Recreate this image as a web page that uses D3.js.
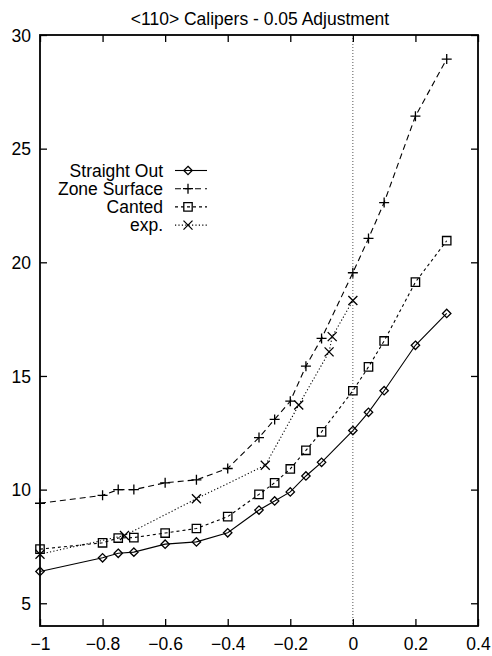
<!DOCTYPE html>
<html>
<head>
<meta charset="utf-8">
<script src="https://cdn.jsdelivr.net/npm/d3@7"></script>
<style>
  html, body { margin: 0; padding: 0; background: #fff; }
  svg { display: block; }
  text { font-family: "Liberation Sans", Arial, Helvetica, sans-serif; fill: #000; }
</style>
</head>
<body>
<svg id="chart" width="492" height="656"></svg>
<script>
// Chart title and axis ticks
const title = "<110> Calipers - 0.05 Adjustment";
const xTicks = [-1, -0.8, -0.6, -0.4, -0.2, 0, 0.2, 0.4];
const yTicks = [5, 10, 15, 20, 25, 30];

// Series: offsets (x) and measured values (y)
const straightX = [-1, -0.8, -0.75, -0.7, -0.6, -0.5, -0.4, -0.3, -0.25, -0.2, -0.15, -0.1, 0, 0.05, 0.1, 0.2, 0.3];
const straightY = [6.4, 7.0, 7.2, 7.25, 7.6, 7.7, 8.1, 9.1, 9.5, 9.9, 10.6, 11.2, 12.6, 13.4, 14.35, 16.35, 17.75];

const zoneX = [-1, -0.8, -0.75, -0.7, -0.6, -0.5, -0.4, -0.3, -0.25, -0.2, -0.15, -0.1, 0, 0.05, 0.1, 0.2, 0.3];
const zoneY = [9.4, 9.75, 10.0, 10.0, 10.3, 10.43, 10.93, 12.29, 13.09, 13.89, 15.43, 16.65, 19.54, 21.05, 22.63, 26.43, 28.94];

const cantedX = [-1, -0.8, -0.75, -0.7, -0.6, -0.5, -0.4, -0.3, -0.25, -0.2, -0.15, -0.1, 0, 0.05, 0.1, 0.2, 0.3];
const cantedY = [7.38, 7.66, 7.87, 7.89, 8.09, 8.29, 8.81, 9.79, 10.3, 10.91, 11.73, 12.54, 14.35, 15.4, 16.54, 19.13, 20.95];

const expX = [-1, -0.73, -0.5, -0.28, -0.173, -0.076, -0.066, 0];
const expY = [7.16, 7.98, 9.6, 11.07, 13.72, 16.06, 16.73, 18.32];

const seriesNames = ["Straight Out", "Zone Surface", "Canted", "exp."];

const FONT = "17.5px";
const svg = d3.select("#chart");
const plot = { left: 40, right: 478, top: 35, bottom: 626 };

const x = d3.scaleLinear().domain([-1, 0.4]).range([plot.left, plot.right]);
const y = d3.scaleLinear().domain([4, 30]).range([plot.bottom, plot.top]);

// Title
svg.append("text")
  .attr("x", (plot.left + plot.right) / 2 + 1)
  .attr("y", 25)
  .attr("text-anchor", "middle")
  .style("font-size", FONT)
  .text(title);

// Vertical dotted reference line at zero offset
svg.append("line")
  .attr("x1", x(0)).attr("x2", x(0))
  .attr("y1", plot.top).attr("y2", plot.bottom)
  .attr("stroke", "#555").attr("stroke-width", 1)
  .attr("stroke-dasharray", "1,2");

// Mirrored inward ticks on all four sides
const tickLen = 7;

const xAxisBottom = d3.axisBottom(x).tickValues(xTicks).tickSizeInner(-tickLen).tickSizeOuter(0).tickFormat(d3.format("~g"));
const xAxisTop = d3.axisTop(x).tickValues(xTicks).tickSizeInner(-tickLen).tickSizeOuter(0).tickFormat("");
const yAxisLeft = d3.axisLeft(y).tickValues(yTicks).tickSizeInner(-tickLen).tickSizeOuter(0).tickFormat(d3.format("d"));
const yAxisRight = d3.axisRight(y).tickValues(yTicks).tickSizeInner(-tickLen).tickSizeOuter(0).tickFormat("");

function styleAxis(g) {
  g.select(".domain").remove();
  g.selectAll(".tick line").attr("stroke", "#000").attr("stroke-width", 1.3);
  g.selectAll(".tick text")
    .style("font-family", "'Liberation Sans', Arial, Helvetica, sans-serif")
    .style("font-size", FONT)
    .attr("fill", "#000");
}

svg.append("g").attr("transform", `translate(0,${plot.bottom})`).call(xAxisBottom).call(styleAxis)
  .selectAll(".tick text").attr("y", 12).attr("dy", "0.71em");
svg.append("g").attr("transform", `translate(0,${plot.top})`).call(xAxisTop).call(styleAxis);
svg.append("g").attr("transform", `translate(${plot.left},0)`).call(yAxisLeft).call(styleAxis)
  .selectAll(".tick text").attr("x", -9).attr("dy", "0.36em");
svg.append("g").attr("transform", `translate(${plot.right},0)`).call(yAxisRight).call(styleAxis);

// Frame
svg.append("rect")
  .attr("x", plot.left).attr("y", plot.top)
  .attr("width", plot.right - plot.left).attr("height", plot.bottom - plot.top)
  .attr("fill", "none").attr("stroke", "#000").attr("stroke-width", 1.8);

// Marker shapes
const markers = {
  diamond: s => `M0,${-s}L${s},0L0,${s}L${-s},0Z`,
  plus: s => `M${-s},0H${s}M0,${-s}V${s}`,
  square: s => `M${-s},${-s}H${s}V${s}H${-s}Z`,
  cross: s => `M${-s},${-s}L${s},${s}M${-s},${s}L${s},${-s}`
};

const series = [
  { name: seriesNames[0], xs: straightX, ys: straightY, dash: null, marker: "diamond", size: 4.2 },
  { name: seriesNames[1], xs: zoneX, ys: zoneY, dash: "6,4", marker: "plus", size: 5 },
  { name: seriesNames[2], xs: cantedX, ys: cantedY, dash: "3,3", marker: "square", size: 4.2 },
  { name: seriesNames[3], xs: expX, ys: expY, dash: "1.2,2.2", marker: "cross", size: 4.5 }
];

const line = d3.line().x(d => x(d[0])).y(d => y(d[1]));

series.forEach(s => {
  const pts = s.xs.map((v, i) => [v, s.ys[i]]);
  const g = svg.append("g");
  g.append("path")
    .datum(pts)
    .attr("d", line)
    .attr("fill", "none")
    .attr("stroke", "#000")
    .attr("stroke-width", 1.1)
    .attr("stroke-dasharray", s.dash);
  g.selectAll("path.mk")
    .data(pts)
    .join("path")
    .attr("class", "mk")
    .attr("transform", d => `translate(${x(d[0])},${y(d[1])})`)
    .attr("d", markers[s.marker](s.size))
    .attr("fill", "none")
    .attr("stroke", "#000")
    .attr("stroke-width", 1.3);
});

// Legend
const legend = svg.append("g");
const legTextX = 163, legLineX0 = 175, legLineX1 = 207, legMarkX = 188;
series.forEach((s, i) => {
  const cy = 170.5 + i * 18.2;
  legend.append("text")
    .attr("x", legTextX).attr("y", cy)
    .attr("dy", "0.36em")
    .attr("text-anchor", "end")
    .style("font-size", FONT)
    .text(s.name);
  legend.append("line")
    .attr("x1", legLineX0).attr("x2", legLineX1)
    .attr("y1", cy).attr("y2", cy)
    .attr("stroke", "#000").attr("stroke-width", 1.1)
    .attr("stroke-dasharray", s.dash);
  legend.append("path")
    .attr("transform", `translate(${legMarkX},${cy})`)
    .attr("d", markers[s.marker](s.size))
    .attr("fill", "none").attr("stroke", "#000").attr("stroke-width", 1.3);
});
</script>
</body>
</html>
